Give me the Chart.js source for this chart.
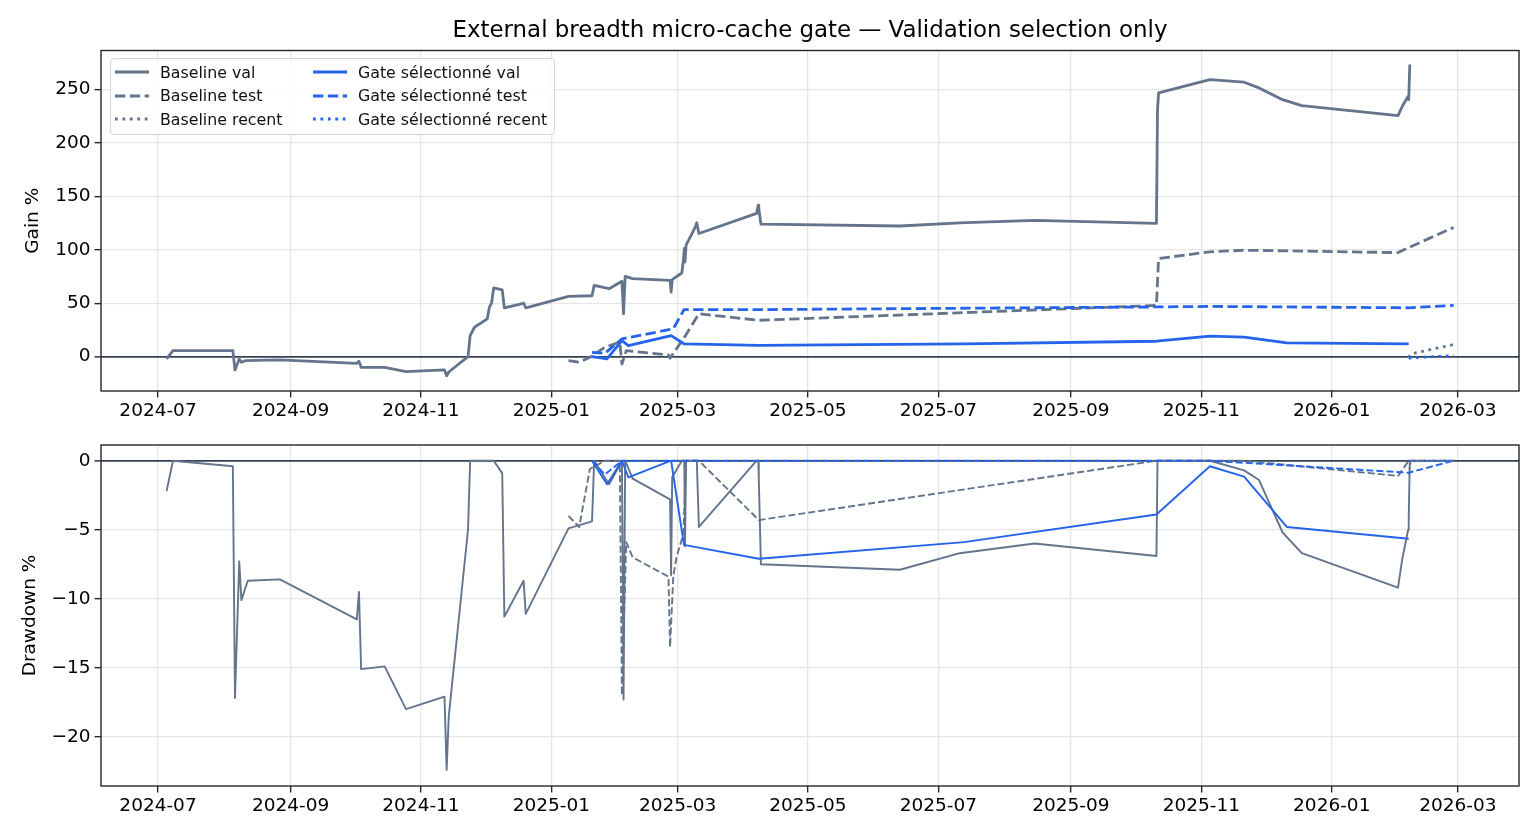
<!DOCTYPE html>
<html>
<head>
<meta charset="utf-8">
<title>External breadth micro-cache gate</title>
<script src="https://cdn.jsdelivr.net/npm/chart.js@4.4.1/dist/chart.umd.min.js"></script>
<style>
  body { margin: 0; background: #fff; font-family: "DejaVu Sans", sans-serif; }
  #wrap { position: relative; width: 1540px; height: 840px; }
  .panel { position: absolute; left: 0; width: 1540px; }
  #top { top: 0; height: 426px; }
  #bottom { top: 426px; height: 414px; }
  #legend {
    position: absolute; left: 110px; top: 58px; width: 445px; height: 77px;
    border: 1px solid #d4d4d4; border-radius: 4px; background: rgba(255,255,255,0.8);
    box-sizing: border-box;
  }
  .item { position: absolute; height: 20px; display: flex; align-items: center;
    font-size: 15.8px; color: #111; white-space: nowrap; }
  .item svg { margin-right: 11px; }
</style>
</head>
<body>
<div id="wrap">
  <div class="panel" id="top"><canvas id="gain"></canvas></div>
  <div class="panel" id="bottom"><canvas id="dd"></canvas></div>
  <div id="legend"></div>
</div>
<script>
// ---- data ----
const TITLE = "External breadth micro-cache gate \u2014 Validation selection only";
const X_TICKS = ["2024-07", "2024-09", "2024-11", "2025-01", "2025-03", "2025-05",
  "2025-07", "2025-09", "2025-11", "2026-01", "2026-03"];
const GAIN_TICKS = [0, 50, 100, 150, 200, 250];
const DD_TICKS = [-20, -15, -10, -5, 0];

const BASE_VAL_GAIN = [
  ["2024-07-05", -2.2], ["2024-07-08", 5.6], ["2024-08-05", 5.6], ["2024-08-06", -12.5],
  ["2024-08-08", -2.2], ["2024-08-09", -5.3], ["2024-08-11", -3.8], ["2024-08-27", -3.1],
  ["2024-10-02", -6.3], ["2024-10-03", -4.4], ["2024-10-04", -10.0], ["2024-10-15", -10.0],
  ["2024-10-25", -14.1], ["2024-11-12", -12.5], ["2024-11-13", -17.9], ["2024-11-14", -14.4],
  ["2024-11-23", 0.0], ["2024-11-24", 19.7], ["2024-11-26", 27.5], ["2024-12-02", 35.4],
  ["2024-12-03", 46.3], ["2024-12-04", 50.0], ["2024-12-05", 64.4], ["2024-12-09", 62.5],
  ["2024-12-10", 45.7], ["2024-12-17", 48.9], ["2024-12-19", 50.0], ["2024-12-20", 45.7],
  ["2025-01-09", 56.4], ["2025-01-20", 57.0], ["2025-01-21", 66.7], ["2025-01-28", 63.6],
  ["2025-02-03", 70.5], ["2025-02-03T18", 40.1], ["2025-02-04T12", 75.2], ["2025-02-08", 73.0],
  ["2025-02-25T12", 71.4], ["2025-02-26", 60.5], ["2025-02-26T12", 72.0], ["2025-03-03", 78.3],
  ["2025-03-03T18", 90.2], ["2025-03-04T04", 101.2], ["2025-03-04T12", 88.6], ["2025-03-05", 104.3],
  ["2025-03-09", 120.0], ["2025-03-10", 125.3], ["2025-03-11", 115.3], ["2025-04-07", 134.1],
  ["2025-04-07T18", 141.9], ["2025-04-08", 138.8], ["2025-04-09", 124.1], ["2025-06-13", 122.3],
  ["2025-07-11", 125.3], ["2025-08-15", 127.5], ["2025-10-11", 124.7], ["2025-10-11T12", 231.0],
  ["2025-10-12", 247.0], ["2025-11-05", 259.4], ["2025-11-21", 256.9], ["2025-11-28", 251.6],
  ["2025-12-09", 240.6], ["2025-12-18", 235.0], ["2026-02-01", 225.6], ["2026-02-03", 234.4],
  ["2026-02-05T18", 243.7], ["2026-02-06", 240.6], ["2026-02-06T12", 273.5]
];
const BASE_TEST_GAIN = [
  ["2025-01-09", -3.8], ["2025-01-14", -5.3], ["2025-01-19", -0.6], ["2025-01-26", 8.8],
  ["2025-02-02", 13.5], ["2025-02-03", -6.9], ["2025-02-05", 5.6], ["2025-02-24T18", 1.5],
  ["2025-02-25T12", -1.5], ["2025-02-27", 3.0], ["2025-03-03T18", 16.6], ["2025-03-11", 40.1],
  ["2025-04-08", 34.0], ["2025-10-11", 47.9], ["2025-10-12", 91.8], ["2025-11-05", 98.1],
  ["2025-11-21", 99.6], ["2026-02-01", 97.4], ["2026-02-06", 102.1], ["2026-02-27", 120.9]
];
const BASE_RECENT_GAIN = [["2026-02-06", -1.0], ["2026-02-07", 2.5], ["2026-02-27", 11.3]];
const GATE_VAL_GAIN = [
  ["2025-01-20", 0.0], ["2025-01-27", -2.2], ["2025-02-03", 15.0], ["2025-02-06", 10.3],
  ["2025-02-26", 19.7], ["2025-03-04", 12.0], ["2025-04-08", 10.5], ["2025-07-13", 12.0],
  ["2025-10-11", 14.4], ["2025-11-05", 19.1], ["2025-11-21", 18.2], ["2025-12-11", 12.9],
  ["2026-02-06", 11.9]
];
const GATE_TEST_GAIN = [
  ["2025-01-20", 4.0], ["2025-01-26", 3.0], ["2025-02-03", 16.6], ["2025-02-27", 26.0],
  ["2025-03-04", 43.9], ["2025-04-08", 44.0], ["2025-10-11", 46.5], ["2025-11-05", 47.0],
  ["2026-02-06", 45.7], ["2026-02-27", 47.9]
];
const GATE_RECENT_GAIN = [["2026-02-06", -1.3], ["2026-02-27", 0.9]];

const BASE_VAL_DD = [
  ["2024-07-05", -2.2], ["2024-07-08", 0], ["2024-08-05", -0.4], ["2024-08-06", -17.2],
  ["2024-08-08", -7.3], ["2024-08-09", -10.1], ["2024-08-12", -8.7], ["2024-08-27", -8.6],
  ["2024-10-02", -11.5], ["2024-10-03", -9.5], ["2024-10-04", -15.1], ["2024-10-15", -14.9],
  ["2024-10-25", -18.0], ["2024-11-12", -17.1], ["2024-11-13", -22.4], ["2024-11-14", -18.5],
  ["2024-11-23", -5.0], ["2024-11-24", 0], ["2024-12-05", 0], ["2024-12-09", -0.9],
  ["2024-12-10", -11.3], ["2024-12-19", -8.7], ["2024-12-20", -11.1], ["2025-01-09", -4.9],
  ["2025-01-20", -4.4], ["2025-01-21", 0], ["2025-01-28", -1.7], ["2025-02-03", 0],
  ["2025-02-03T18", -17.3], ["2025-02-04T12", 0], ["2025-02-08", -1.3], ["2025-02-25T12", -2.8],
  ["2025-02-26", -8.3], ["2025-02-26T12", -1.2], ["2025-03-03", 0], ["2025-03-04T04", 0],
  ["2025-03-04T12", -6.2], ["2025-03-05", 0], ["2025-03-10", 0], ["2025-03-11", -4.8],
  ["2025-04-07", 0], ["2025-04-07T18", 0], ["2025-04-08", -1.3], ["2025-04-09", -7.5],
  ["2025-06-13", -7.9], ["2025-07-11", -6.7], ["2025-08-15", -6.0], ["2025-10-11", -6.9],
  ["2025-10-11T12", 0], ["2025-11-05", 0], ["2025-11-21", -0.7], ["2025-11-28", -1.4],
  ["2025-12-09", -5.2], ["2025-12-18", -6.7], ["2026-02-01", -9.2], ["2026-02-03", -7.1],
  ["2026-02-05T18", -5.0], ["2026-02-06", -4.2], ["2026-02-06T12", 0]
];
const BASE_TEST_DD = [
  ["2025-01-09", -4.0], ["2025-01-14", -4.8], ["2025-01-19", -0.6], ["2025-01-26", 0],
  ["2025-02-02", 0], ["2025-02-03", -17.0], ["2025-02-05", -5.9], ["2025-02-08", -7.0],
  ["2025-02-24T18", -8.4], ["2025-02-25T12", -13.5], ["2025-02-27", -8.4], ["2025-02-28T12", -7.0],
  ["2025-03-03T18", -5.3], ["2025-03-05", 0], ["2025-03-11", 0], ["2025-04-08", -4.3],
  ["2025-10-11", 0], ["2025-11-21", 0], ["2026-02-01", -1.1], ["2026-02-06", 0],
  ["2026-02-27", 0]
];
const BASE_RECENT_DD = [["2026-02-06", -1.0], ["2026-02-07", 0], ["2026-02-27", 0]];
const GATE_VAL_DD = [
  ["2025-01-20", 0], ["2025-01-27", -1.7], ["2025-02-03", 0], ["2025-02-06", -1.2],
  ["2025-02-26", 0], ["2025-03-04", -6.1], ["2025-04-08", -7.1], ["2025-07-13", -5.9],
  ["2025-10-11", -3.9], ["2025-11-05", -0.4], ["2025-11-21", -1.15], ["2025-12-11", -4.8],
  ["2026-02-06", -5.65]
];
const GATE_TEST_DD = [
  ["2025-01-20", 0], ["2025-01-26", -1.0], ["2025-02-03", 0], ["2025-02-27", 0],
  ["2025-11-05", 0], ["2026-02-06", -0.87], ["2026-02-27", 0]
];
const GATE_RECENT_DD = [["2026-02-06", 0], ["2026-02-27", 0]];

// ---- styling ----
const GRAY = "#64748b";
const BLUE = "#2563eb";
const GRID = "#e6e6e6";
const INK = "#262626";
const ZERO = "#334155";
const FONT = "'DejaVu Sans', 'Noto Sans', sans-serif";

Chart.defaults.font.family = FONT;
Chart.defaults.color = "#000";

const ts = (s) => Date.parse(s.length > 10 ? s + ":00:00Z" : s + "T00:00:00Z");
const X_MIN = ts("2024-06-04T08");
const X_MAX = ts("2026-03-29T14");

const dash = (style, w) =>
  style === "dashed" ? [3.7 * w, 1.6 * w] : style === "dotted" ? [1 * w, 1.65 * w] : [];

function line(points, color, style, w, order) {
  return {
    data: points.map(([d, v]) => ({ x: ts(d), y: v })),
    borderColor: color,
    borderWidth: w,
    borderDash: dash(style, w),
    borderJoinStyle: "round",
    borderCapStyle: "butt",
    pointRadius: 0,
    tension: 0,
    fill: false,
    order,
  };
}

// axes box on all four sides, plus the title centred over the plot area
const framePlugin = {
  id: "frame",
  afterDatasetsDraw(chart, args, opts) {
    const { ctx, chartArea: a } = chart;
    ctx.save();
    ctx.strokeStyle = INK;
    ctx.lineWidth = 1.4;
    ctx.strokeRect(a.left, a.top, a.right - a.left, a.bottom - a.top);
    if (opts.title) {
      ctx.fillStyle = "#000";
      ctx.font = "22.9px " + FONT;
      ctx.textAlign = "center";
      ctx.textBaseline = "middle";
      ctx.fillText(opts.title, (a.left + a.right) / 2, 31);
    }
    ctx.restore();
  },
};

const minus = (v) => (v < 0 ? "\u2212" + Math.abs(v) : String(v));

function makeChart(id, datasets, yTicks, yMin, yMax, yTitle, titlePad, padding, title) {
  return new Chart(document.getElementById(id), {
    type: "line",
    data: { datasets },
    plugins: [framePlugin],
    options: {
      responsive: true,
      maintainAspectRatio: false,
      animation: false,
      events: [],
      layout: { padding },
      plugins: {
        legend: { display: false },
        tooltip: { enabled: false },
        title: { display: false },
        frame: { title },
      },
      scales: {
        x: {
          type: "linear",
          min: X_MIN,
          max: X_MAX,
          afterBuildTicks: (s) => { s.ticks = X_TICKS.map((m) => ({ value: ts(m + "-01") })); },
          afterFit: (s) => { s.height = 35; },
          ticks: {
            callback: (v, i) => X_TICKS[i],
            autoSkip: false, maxRotation: 0, padding: 3,
            color: "#000", font: { size: 18.5 },
          },
          grid: { color: GRID, lineWidth: 1.3, tickLength: 6.5, tickColor: INK, tickWidth: 1.4 },
          border: { display: false },
        },
        y: {
          type: "linear",
          min: yMin,
          max: yMax,
          afterBuildTicks: (s) => { s.ticks = yTicks.map((v) => ({ value: v })); },
          afterFit: (s) => { s.width = 101; },
          ticks: {
            callback: (v) => minus(v),
            padding: 4, color: "#000", font: { size: 18.5 },
          },
          grid: {
            color: (c) => (c.tick && c.tick.value === 0 ? ZERO : GRID),
            lineWidth: (c) => (c.tick && c.tick.value === 0 ? 1.8 : 1.3),
            tickLength: 6.5, tickColor: INK, tickWidth: 1.4,
          },
          border: { display: false },
          title: {
            display: true, text: yTitle, color: "#000",
            font: { size: 18.5 }, padding: { top: titlePad, bottom: 0 },
          },
        },
      },
    },
  });
}

const TOP_W = 2.8;
const BOT_W = 1.9;

makeChart("gain", [
  line(BASE_VAL_GAIN, GRAY, "solid", TOP_W, 2),
  line(BASE_TEST_GAIN, GRAY, "dashed", TOP_W, 2),
  line(BASE_RECENT_GAIN, GRAY, "dotted", TOP_W, 2),
  line(GATE_VAL_GAIN, BLUE, "solid", TOP_W, 1),
  line(GATE_TEST_GAIN, BLUE, "dashed", TOP_W, 1),
  line(GATE_RECENT_GAIN, BLUE, "dotted", TOP_W, 1),
], GAIN_TICKS, -32.2, 286.6, "Gain %", 22,
  { left: 0, right: 21, top: 50.5, bottom: 0 }, TITLE);

makeChart("dd", [
  line(BASE_VAL_DD, GRAY, "solid", BOT_W, 2),
  line(BASE_TEST_DD, GRAY, "dashed", BOT_W, 2),
  line(BASE_RECENT_DD, GRAY, "dotted", BOT_W, 2),
  line(GATE_VAL_DD, BLUE, "solid", BOT_W, 1),
  line(GATE_TEST_DD, BLUE, "dashed", BOT_W, 1),
  line(GATE_RECENT_DD, BLUE, "dotted", BOT_W, 1),
], DD_TICKS, -23.57, 1.14, "Drawdown %", 19,
  { left: 0, right: 21, top: 19, bottom: 19 }, null);

// ---- legend (two columns, like the original) ----
const LEGEND = [
  ["Baseline val", GRAY, "solid"], ["Baseline test", GRAY, "dashed"], ["Baseline recent", GRAY, "dotted"],
  ["Gate s\u00e9lectionn\u00e9 val", BLUE, "solid"], ["Gate s\u00e9lectionn\u00e9 test", BLUE, "dashed"],
  ["Gate s\u00e9lectionn\u00e9 recent", BLUE, "dotted"],
];
const legendEl = document.getElementById("legend");
LEGEND.forEach(([label, color, style], i) => {
  const col = Math.floor(i / 3), row = i % 3;
  const item = document.createElement("div");
  item.className = "item";
  item.style.left = (col === 0 ? 4 : 202) + "px";
  item.style.top = [3, 26.5, 50][row] + "px";
  const da = dash(style, TOP_W).join(" ");
  item.innerHTML =
    `<svg width="34" height="8"><line x1="0" y1="4" x2="34" y2="4" stroke="${color}" ` +
    `stroke-width="${TOP_W}" ${da ? `stroke-dasharray="${da}"` : ""}/></svg><span></span>`;
  item.querySelector("span").textContent = label;
  legendEl.appendChild(item);
});
</script>
</body>
</html>
